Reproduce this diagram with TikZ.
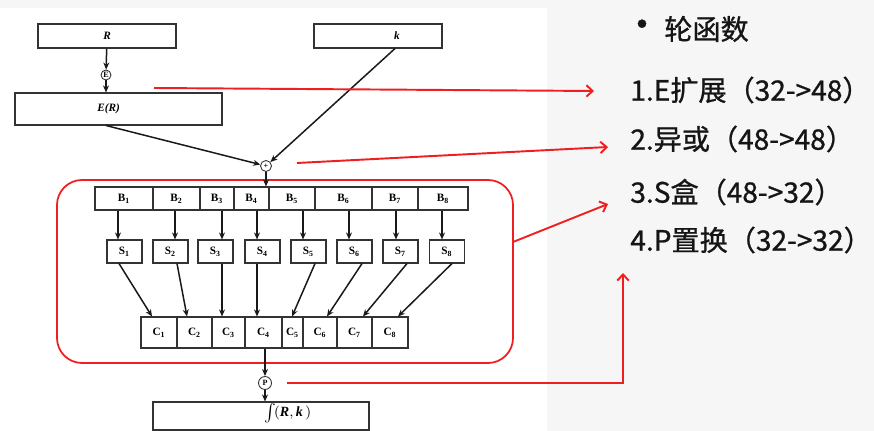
\documentclass[tikz,border=0pt]{standalone}
\usepackage{fontspec}
\setmainfont{Liberation Serif}
\newfontfamily\cjk[FakeBold=0.9]{Noto Sans CJK SC}
\usetikzlibrary{positioning,arrows.meta,calc}
\definecolor{redl}{HTML}{F01E1E}
\definecolor{boxb}{HTML}{333333}
\definecolor{paper}{HTML}{F6F6F6}
\definecolor{ink}{HTML}{151515}

\begin{document}
\begin{tikzpicture}[
  x=0.02cm, y=-0.02cm,
  box/.style={draw=boxb, line width=.6pt, fill=white, inner sep=0pt, font=\fontsize{6.4}{7}\selectfont\bfseries},
  op/.style={circle, draw=boxb, line width=.5pt, fill=white, inner sep=0pt, font=\fontsize{4.6}{5}\selectfont\bfseries},
  flow/.style={-{Stealth[length=4pt,width=3.4pt]}, line width=.85pt, black!90},
  redarr/.style={-{Straight Barb[length=3.5pt,width=6.5pt]}, line width=1.1pt, redl},
  item/.style={font=\cjk\fontsize{16}{18}\selectfont, text=ink, inner sep=0pt, anchor=west},
]
\useasboundingbox (0,0) rectangle (874,431);
\fill[paper] (0,0) rectangle (874,431);
\fill[white] (0,8) rectangle (547,431);

% ---------------- inputs
\node[box, minimum width=2.76cm, minimum height=.48cm] (rbox) at (107,36) {\textit{R}};
\node[box, minimum width=2.56cm, minimum height=.48cm] (kbox) at (378,36) {\hspace*{.76cm}\textit{k}};
\node[op, minimum size=.2cm] (ecirc) at (106,75) {E};
\node[box, minimum width=4.14cm, minimum height=.64cm] (er) at (118.5,109) {\textit{E(R)}\hspace*{.4cm}};
\node[op, minimum size=.22cm] (xor) at (266,166) {+};

% ---------------- s-box layer
\draw[redl, line width=1pt, rounded corners=.5cm] (57,180) rectangle (513,363);
\coordinate (frameR) at (513,242);

\foreach \i/\cx/\w in {1/124/1.16, 2/176.5/.94, 3/217/.68, 4/251.5/.70,
                       5/292/.92, 6/343.5/1.14, 7/395/.92, 8/443/1.00}
  \node[box, minimum width=\w cm, minimum height=.46cm] (b\i) at (\cx,198.5) {B\textsubscript{\i}};

\foreach \i/\cx in {1/124.5, 2/170.5, 3/215.5, 4/262.5, 5/308.5, 6/354.5, 7/400.5, 8/447}
  \node[box, minimum width=.70cm, minimum height=.46cm] (s\i) at (\cx,251.5) {S\textsubscript{\i}};

\foreach \i/\cx/\w in {1/159/.72, 2/194.5/.70, 3/228.5/.66, 4/263.5/.74,
                       5/292.5/.42, 6/320/.68, 7/354.5/.70, 8/390/.72}
  \node[box, minimum width=\w cm, minimum height=.62cm] (c\i) at (\cx,332.5) {C\textsubscript{\i}};

% ---------------- output
\node[op, minimum size=.26cm] (p) at (265,383) {P};
\node[box, minimum width=4.32cm, minimum height=.56cm] (out) at (261,416) {};
\node[font=\fontsize{8}{9}\selectfont, inner sep=0pt] (outlbl) at (288,413) {$\int\!($\textbf{\textit{R}}$,$\,\textbf{\textit{k}}$\,)$};

% ---------------- flows
\draw[flow] (rbox) -- (ecirc);
\draw[flow] (ecirc) -- (er.north -| ecirc);
\draw[flow] (er.south -| 106,0) -- (xor);
\draw[flow] (kbox.south -| 395,0) -- (xor);
\draw[flow] (xor) -- (b4.north -| xor);
\foreach \i/\ax in {1/118, 2/175, 3/222, 4/257, 5/303, 6/349, 7/396, 8/442}
  \draw[flow] (b\i.south -| \ax,0) -- (s\i.north -| \ax,0);
\foreach \i/\sx/\tx in {1/119/152, 2/177/187, 3/222/222, 4/257/257,
                        5/315/292, 6/362/327, 7/407/363, 8/452/398}
  \draw[flow] (s\i.south -| \sx,0) -- (c\i.north -| \tx,0);
\draw[flow] (c4.south -| p) -- (p);
\draw[flow] (p) -- (out.north -| p);

% ---------------- round function steps
\node[font=\cjk\fontsize{22}{22}\selectfont, text=ink, inner sep=0pt] (dot) at (642,29) {•};
\node[item] (head) at (664,29) {轮函数};
\node[item] (st1) at (630,90) {1.E扩展（32->48）};
\node[item] (st2) at (630,139) {2.异或（48->48）};
\node[item] (st3) at (630,192) {3.S盒（48->32）};
\node[item] (st4) at (630,240) {4.P置换（32->32）};

\coordinate (e1) at (154,88);  \coordinate (t1) at (594,91);
\coordinate (e2) at (297,163); \coordinate (t2) at (608,147);
\coordinate (t3) at (608,204);
\coordinate (e4) at (287,383); \coordinate (t4) at (623,273);
\draw[redarr] (e1) -- (t1);
\draw[redarr] (e2) -- (t2);
\draw[redarr] (frameR) -- (t3);
\draw[redarr] (e4) -| (t4);

\end{tikzpicture}
\end{document}
